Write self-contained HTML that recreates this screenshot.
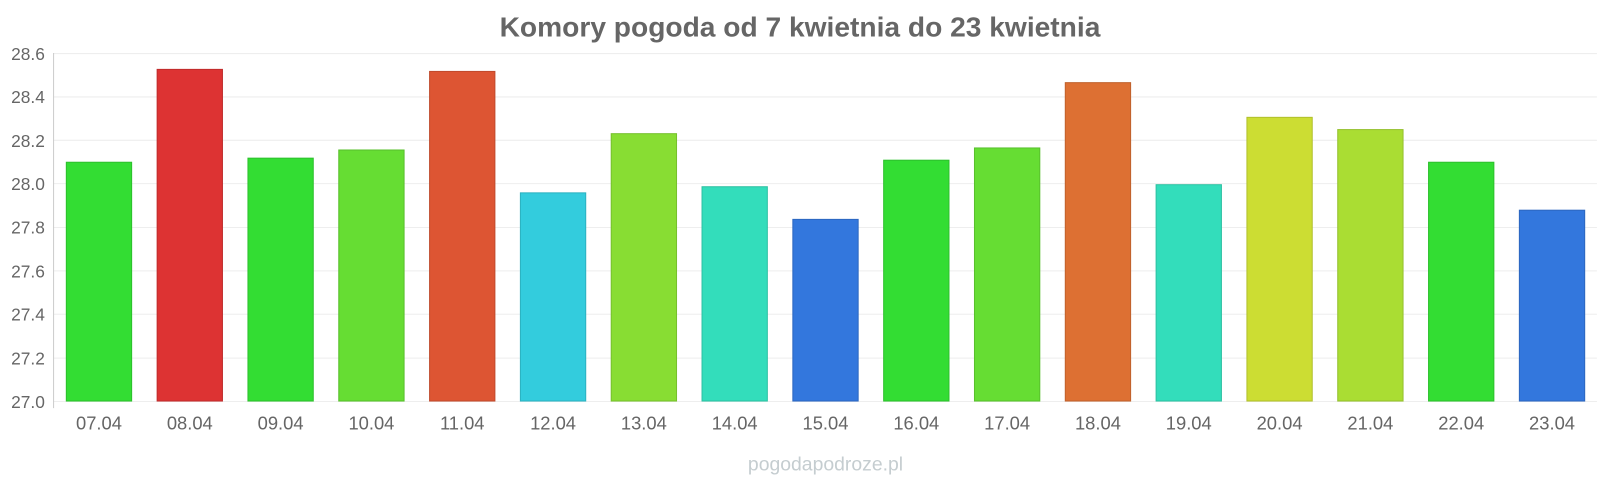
<!DOCTYPE html>
<html><head><meta charset="utf-8"><style>
body{margin:0;background:#fff;width:1600px;height:480px;overflow:hidden}
svg{font-family:"Liberation Sans",sans-serif}
</style></head><body>
<svg width="1600" height="480" xmlns="http://www.w3.org/2000/svg">
<g transform="scale(1.0204)">
<text x="784" y="36" text-anchor="middle" font-size="27.6" font-weight="bold" fill="#666">Komory pogoda od 7 kwietnia do 23 kwietnia</text>
<g stroke="#eee" stroke-width="1">
<line x1="52" x2="1565" y1="52.5" y2="52.5"/><line x1="52" x2="1565" y1="95" y2="95"/>
<line x1="52" x2="1565" y1="137.5" y2="137.5"/><line x1="52" x2="1565" y1="180" y2="180"/>
<line x1="52" x2="1565" y1="223" y2="223"/><line x1="52" x2="1565" y1="265.5" y2="265.5"/>
<line x1="52" x2="1565" y1="308" y2="308"/><line x1="52" x2="1565" y1="351" y2="351"/>
<line x1="52" x2="1565" y1="393.5" y2="393.5"/>
</g>
<line x1="52.5" x2="52.5" y1="52" y2="400" stroke="#ccc"/>
<g font-size="17" fill="#666" text-anchor="end">
<text x="44" y="59">28.6</text><text x="44" y="101">28.4</text><text x="44" y="144">28.2</text>
<text x="44" y="186">28.0</text><text x="44" y="229">27.8</text><text x="44" y="272">27.6</text>
<text x="44" y="314">27.4</text><text x="44" y="357">27.2</text><text x="44" y="400">27.0</text>
</g>
<g>
<rect x="65" y="159" width="64" height="234" fill="#33dd33" stroke="#2cc02c"/>
<rect x="154" y="68" width="64" height="325" fill="#dd3333" stroke="#c02c2c"/>
<rect x="243" y="155" width="64" height="238" fill="#33dd33" stroke="#2cc02c"/>
<rect x="332" y="147" width="64" height="246" fill="#66dd33" stroke="#58c02c"/>
<rect x="421" y="70" width="64" height="323" fill="#dd5533" stroke="#c04a2c"/>
<rect x="510" y="189" width="64" height="204" fill="#33ccdd" stroke="#2cb1c0"/>
<rect x="599" y="131" width="64" height="262" fill="#88dd33" stroke="#76c02c"/>
<rect x="688" y="183" width="64" height="210" fill="#33ddbb" stroke="#2cc0a2"/>
<rect x="777" y="215" width="64" height="178" fill="#3377dd" stroke="#2c67c0"/>
<rect x="866" y="157" width="64" height="236" fill="#33dd33" stroke="#2cc02c"/>
<rect x="955" y="145" width="64" height="248" fill="#66dd33" stroke="#58c02c"/>
<rect x="1044" y="81" width="64" height="312" fill="#dd7033" stroke="#c0612c"/>
<rect x="1133" y="181" width="64" height="212" fill="#33ddbb" stroke="#2cc0a2"/>
<rect x="1222" y="115" width="64" height="278" fill="#ccdd33" stroke="#b1c02c"/>
<rect x="1311" y="127" width="64" height="266" fill="#aadd33" stroke="#94c02c"/>
<rect x="1400" y="159" width="64" height="234" fill="#33dd33" stroke="#2cc02c"/>
<rect x="1489" y="206" width="64" height="187" fill="#3377dd" stroke="#2c67c0"/>
</g>
<g font-size="18" fill="#666" text-anchor="middle">
<text x="97" y="421">07.04</text><text x="186" y="421">08.04</text><text x="275" y="421">09.04</text>
<text x="364" y="421">10.04</text><text x="453" y="421">11.04</text><text x="542" y="421">12.04</text>
<text x="631" y="421">13.04</text><text x="720" y="421">14.04</text><text x="809" y="421">15.04</text>
<text x="898" y="421">16.04</text><text x="987" y="421">17.04</text><text x="1076" y="421">18.04</text>
<text x="1165" y="421">19.04</text><text x="1254" y="421">20.04</text><text x="1343" y="421">21.04</text>
<text x="1432" y="421">22.04</text><text x="1521" y="421">23.04</text>
</g>
<text x="809" y="461" text-anchor="middle" font-size="19" fill="#c5cdd0">pogodapodroze.pl</text>
</g>
</svg>
</body></html>
